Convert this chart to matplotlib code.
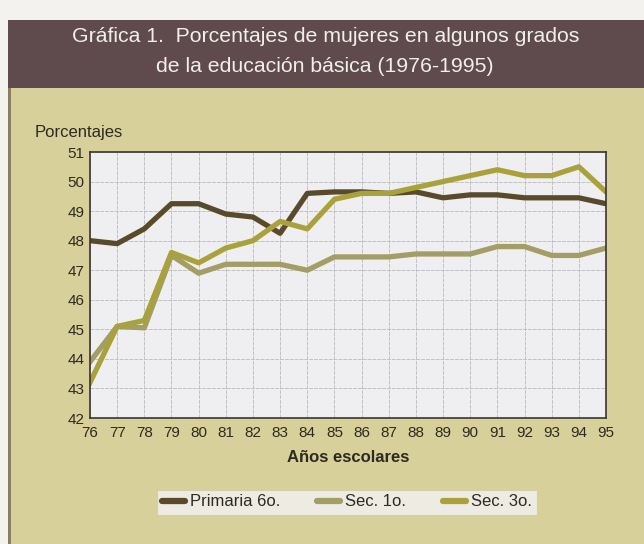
import matplotlib.pyplot as plt
from matplotlib.patches import Rectangle

# Datos (porcentaje de mujeres)
anios = ['76', '77', '78', '79', '80', '81', '82', '83', '84', '85',
         '86', '87', '88', '89', '90', '91', '92', '93', '94', '95']
primaria_6o = [48.0, 47.9, 48.4, 49.25, 49.25, 48.9, 48.8, 48.25, 49.6, 49.65,
               49.65, 49.6, 49.65, 49.45, 49.55, 49.55, 49.45, 49.45, 49.45, 49.25]
sec_1o = [43.9, 45.1, 45.05, 47.5, 46.9, 47.2, 47.2, 47.2, 47.0, 47.45,
          47.45, 47.45, 47.55, 47.55, 47.55, 47.8, 47.8, 47.5, 47.5, 47.75]
sec_3o = [43.2, 45.1, 45.3, 47.6, 47.25, 47.75, 48.0, 48.65, 48.4, 49.4,
          49.6, 49.6, 49.8, 50.0, 50.2, 50.4, 50.2, 50.2, 50.5, 49.65]
y_ticks = [42, 43, 44, 45, 46, 47, 48, 49, 50, 51]

plt.rcParams['font.family'] = ['Liberation Sans', 'DejaVu Sans']

fondo = '#d7d09a'
fig = plt.figure(figsize=(6.44, 5.44), dpi=100)
fig.patch.set_facecolor(fondo)

# franja blanca a la izquierda y encabezado oscuro
fig.patches.append(Rectangle((0, 0), 8 / 644, 1, transform=fig.transFigure,
                             facecolor='#f4f2ee', edgecolor='none', zorder=0))
fig.patches.append(Rectangle((8 / 644, 0), 3 / 644, 1, transform=fig.transFigure,
                             facecolor='#8a7e62', edgecolor='none', zorder=0))
fig.patches.append(Rectangle((0, 1 - 20 / 544), 1, 20 / 544, transform=fig.transFigure,
                             facecolor='#f4f2ee', edgecolor='none', zorder=0))
fig.patches.append(Rectangle((8 / 644, 1 - 88 / 544), 1, 68 / 544, transform=fig.transFigure,
                             facecolor='#5f4b4e', edgecolor='none', zorder=1))

fig.text(0.505, 1 - 36 / 544, 'Gráfica 1.  Porcentajes de mujeres en algunos grados',
         ha='center', va='center', color='#f2eeea', fontsize=15.3)
fig.text(0.505, 1 - 66 / 544, 'de la educación básica (1976-1995)',
         ha='center', va='center', color='#f2eeea', fontsize=15.3)

ax = fig.add_axes([90 / 644, 1 - 418 / 544, 516 / 644, 266 / 544])
ax.set_facecolor('#efeff1')
x = list(range(len(anios)))

ax.plot(x, primaria_6o, color='#5a4a2c', lw=3.8, label='Primaria 6o.')
ax.plot(x, sec_1o, color='#a39d66', lw=3.8, label='Sec. 1o.')
ax.plot(x, sec_3o, color='#a9a23c', lw=3.8, label='Sec. 3o.')

ax.set_xlim(0, len(anios) - 1)
ax.set_ylim(42, 51)
ax.set_xticks(x)
ax.set_xticklabels(anios)
ax.set_yticks(y_ticks)
ax.tick_params(length=0, labelsize=11, colors='#2e2a20')
ax.tick_params(axis='x', pad=6)
ax.tick_params(axis='y', pad=4)
ax.grid(True, color='#c2c2c6', lw=0.7, ls=(0, (4, 1)))
for s in ax.spines.values():
    s.set_color('#3a3530')
    s.set_linewidth(1.2)

fig.text(35 / 644, 1 - 132 / 544, 'Porcentajes', ha='left', va='center',
         fontsize=12, color='#2e2a20')
fig.text(348 / 644, 1 - 458 / 544, 'Años escolares', ha='center', va='center',
         fontsize=12, fontweight='bold', color='#2e2a20')

leg = fig.legend(loc='center', bbox_to_anchor=(347 / 644, 1 - 502 / 544), ncol=3,
                 frameon=True, fancybox=False, fontsize=12, handlelength=1.4,
                 handletextpad=0.3, columnspacing=2.2, borderpad=0.3)
leg.get_frame().set_facecolor('#f3f3f5')
leg.get_frame().set_edgecolor('#d0ccb0')
leg.get_frame().set_linewidth(0.8)
for h in leg.legend_handles:
    h.set_linewidth(4.5)
    h.set_solid_capstyle('round')
for t in leg.get_texts():
    t.set_color('#2e2a20')

plt.savefig('out.png', dpi=100, facecolor=fig.get_facecolor())
